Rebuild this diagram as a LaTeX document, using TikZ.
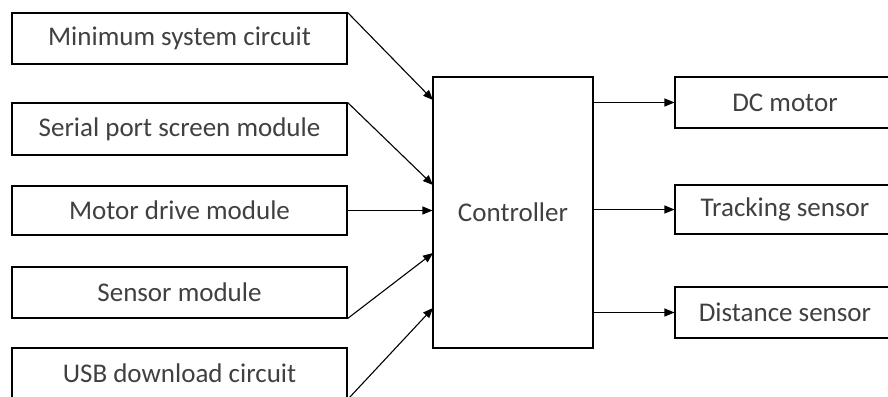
\documentclass[tikz,border=0pt]{standalone}
\usepackage{fontspec}
\setmainfont{Carlito}
\usepackage{tikz}
\usetikzlibrary{arrows.meta}

\begin{document}
\begin{tikzpicture}[x=1pt, y=-1pt, line width=1.1pt, >={Triangle[length=10pt,width=8pt]},
    block/.style={draw, rectangle, inner sep=0pt, text=black!75, font=\fontsize{27}{31}\selectfont},
    arr/.style={->}]
    \useasboundingbox (0,0) rectangle (888,396);
    % inputs
    \node[block, minimum width=335pt, minimum height=51pt] (minsys) at (179.5,38.5) {Minimum system circuit};
    \node[block, minimum width=335pt, minimum height=52pt] (serial) at (179.5,129) {Serial port screen module};
    \node[block, minimum width=335pt, minimum height=49pt] (motdrv) at (179.5,210.5) {Motor drive module};
    \node[block, minimum width=335pt, minimum height=51pt] (sensmod) at (179.5,292.5) {Sensor module};
    \node[block, minimum width=335pt, minimum height=51pt] (usb) at (179.5,373.5) {USB download circuit};
    % controller
    \node[block, minimum width=160pt, minimum height=271pt] (ctrl) at (513,212.5) {Controller};
    % outputs
    \node[block, minimum width=220pt, minimum height=51pt] (dcm) at (785,102.5) {DC motor};
    \node[block, minimum width=220pt, minimum height=49pt] (track) at (785,209.5) {Tracking sensor};
    \node[block, minimum width=220pt, minimum height=51pt] (dist) at (785,312.5) {Distance sensor};
    % arrow ends on the controller
    \coordinate (in1) at (433,100);
    \coordinate (in2) at (433,185);
    \coordinate (in4) at (433,253);
    \coordinate (in5) at (433,308);
    \draw[arr] (minsys.north east) -- (in1);
    \draw[arr] (serial.north east) -- (in2);
    \draw[arr] (motdrv.east) -- (motdrv.east -| ctrl.west);
    \draw[arr] (sensmod.south east) -- (in4);
    \draw[arr] (usb.south east) -- (in5);
    \draw[arr] (ctrl.east |- dcm) -- (dcm.west);
    \draw[arr] (ctrl.east |- track) -- (track.west);
    \draw[arr] (ctrl.east |- dist) -- (dist.west);
\end{tikzpicture}
\end{document}
